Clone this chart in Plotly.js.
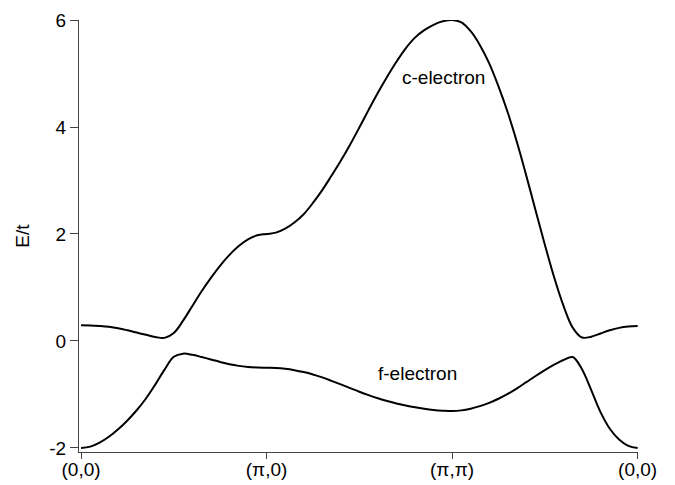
<!DOCTYPE html>
<html>
<head>
<meta charset="utf-8">
<script src="https://cdn.plot.ly/plotly-3.0.1.min.js"></script>
<style>
html,body{margin:0;padding:0;background:#fff;}
#chart{width:675px;height:485px;}
</style>
</head>
<body>
<div id="chart"></div>
<script>
// Path position along (0,0) -> (π,0) -> (π,π) -> (0,0), segments of unit length
const tickPositions = [0, 1, 2, 3];
const tickLabels = ['(0,0)', '(π,0)', '(π,π)', '(0,0)'];
const yTicks = [-2, 0, 2, 4, 6];

// sampled path positions (step 0.05)
const pathX = [0.00,0.05,0.10,0.15,0.20,0.25,0.30,0.35,0.40,0.45,
               0.50,0.55,0.60,0.65,0.70,0.75,0.80,0.85,0.90,0.95,
               1.00,1.05,1.10,1.15,1.20,1.25,1.30,1.35,1.40,1.45,
               1.50,1.55,1.60,1.65,1.70,1.75,1.80,1.85,1.90,1.95,
               2.00,2.05,2.10,2.15,2.20,2.25,2.30,2.35,2.40,2.45,
               2.50,2.55,2.60,2.65,2.70,2.75,2.80,2.85,2.90,2.95,3.00];

// c-electron (upper) band
const cBandE = [0.293,0.290,0.280,0.265,0.238,0.200,0.157,0.115,0.075,0.058,
                0.150,0.380,0.655,0.930,1.180,1.410,1.610,1.775,1.900,1.975,
                2.000,2.025,2.100,2.215,2.370,2.580,2.820,3.090,3.370,3.670,
                3.990,4.320,4.640,4.940,5.220,5.470,5.670,5.810,5.910,5.975,
                6.000,5.955,5.790,5.530,5.190,4.760,4.270,3.710,3.090,2.440,
                1.800,1.190,0.660,0.250,0.065,0.080,0.140,0.200,0.245,0.270,0.280];

// f-electron (lower) band
const fBandE = [-2.000,-1.975,-1.900,-1.790,-1.650,-1.485,-1.295,-1.075,-0.815,-0.535,
                -0.295,-0.237,-0.258,-0.300,-0.345,-0.392,-0.435,-0.465,-0.484,-0.495,
                -0.500,-0.505,-0.520,-0.545,-0.580,-0.625,-0.680,-0.745,-0.812,-0.880,
                -0.948,-1.012,-1.070,-1.122,-1.168,-1.207,-1.240,-1.267,-1.288,-1.302,
                -1.310,-1.297,-1.265,-1.218,-1.156,-1.080,-0.990,-0.885,-0.770,-0.655,
                -0.545,-0.443,-0.355,-0.300,-0.530,-0.920,-1.330,-1.640,-1.840,-1.960,-2.000];

const FONT = 'Liberation Sans, Arial, Helvetica, sans-serif';
const FS = 19;

const traces = [
  {x: pathX, y: cBandE, type: 'scatter', mode: 'lines', name: 'c-electron',
   line: {color: '#000', width: 2, shape: 'spline', smoothing: 1}, hoverinfo: 'skip'},
  {x: pathX, y: fBandE, type: 'scatter', mode: 'lines', name: 'f-electron',
   line: {color: '#000', width: 2, shape: 'spline', smoothing: 1}, hoverinfo: 'skip'}
];

const layout = {
  width: 675, height: 485,
  margin: {l: 79, r: 37, t: 20, b: 33},
  paper_bgcolor: '#fff', plot_bgcolor: '#fff',
  showlegend: false,
  font: {family: FONT, size: FS, color: '#000'},
  xaxis: {
    range: [-0.011, 3.002],
    tickmode: 'array', tickvals: tickPositions, ticktext: tickLabels,
    showgrid: false, zeroline: false,
    showline: true, linecolor: '#444', linewidth: 1,
    ticks: 'outside', ticklen: 6, tickcolor: '#444', tickwidth: 1,
    ticklabelstandoff: -6,
    tickfont: {family: FONT, size: FS, color: '#000'}
  },
  yaxis: {
    range: [-2.075, 6],
    tickmode: 'array', tickvals: yTicks, ticktext: yTicks.map(String),
    showgrid: false, zeroline: false,
    showline: true, linecolor: '#444', linewidth: 1,
    ticks: 'outside', ticklen: 8, tickcolor: '#444', tickwidth: 1,
    tickfont: {family: FONT, size: FS, color: '#000'},
    title: {text: 'E/t', font: {family: FONT, size: FS, color: '#000'}, standoff: 14}
  },
  annotations: [
    {x: 1.953, y: 4.93, xref: 'x', yref: 'y', text: 'c-electron', showarrow: false,
     font: {family: FONT, size: FS, color: '#000'}},
    {x: 1.815, y: -0.6, xref: 'x', yref: 'y', text: 'f-electron', showarrow: false,
     font: {family: FONT, size: FS, color: '#000'}}
  ]
};

Plotly.newPlot('chart', traces, layout, {displayModeBar: false, staticPlot: true});
</script>
</body>
</html>
